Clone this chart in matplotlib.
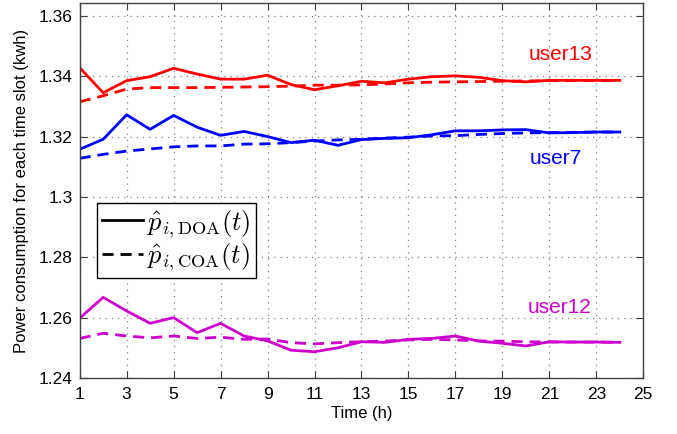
import matplotlib
matplotlib.use("Agg")
import matplotlib.pyplot as plt
from matplotlib.lines import Line2D

plt.rcParams['font.family'] = ['Liberation Sans', 'DejaVu Sans']
plt.rcParams['mathtext.fontset'] = 'cm'

hours = list(range(1, 25))

user13_doa = [1.3428, 1.3345, 1.3385, 1.3398, 1.3426, 1.3407, 1.3390, 1.3390, 1.3403, 1.3372,
              1.3355, 1.3368, 1.3383, 1.3378, 1.3390, 1.3398, 1.3401, 1.3396, 1.3385, 1.3381,
              1.3386, 1.3386, 1.3386, 1.3386]
user13_coa = [1.3315, 1.3335, 1.3357, 1.3362, 1.3362, 1.3362, 1.3363, 1.3364, 1.3365, 1.3367,
              1.3370, 1.3370, 1.3371, 1.3374, 1.3378, 1.3380, 1.3381, 1.3382, 1.3383, 1.3384,
              1.3385, 1.3385, 1.3386, 1.3386]
user7_doa = [1.3158, 1.3191, 1.3272, 1.3224, 1.3270, 1.3231, 1.3204, 1.3217, 1.3200, 1.3180,
             1.3188, 1.3171, 1.3190, 1.3194, 1.3196, 1.3206, 1.3219, 1.3219, 1.3222, 1.3223,
             1.3212, 1.3213, 1.3215, 1.3215]
user7_coa = [1.3128, 1.3141, 1.3152, 1.3159, 1.3166, 1.3169, 1.3169, 1.3175, 1.3176, 1.3180,
             1.3185, 1.3189, 1.3191, 1.3195, 1.3198, 1.3202, 1.3203, 1.3207, 1.3210, 1.3212,
             1.3213, 1.3214, 1.3215, 1.3215]
user12_doa = [1.2599, 1.2668, 1.2623, 1.2582, 1.2601, 1.2551, 1.2582, 1.2540, 1.2524, 1.2493,
              1.2488, 1.2501, 1.2521, 1.2519, 1.2529, 1.2532, 1.2540, 1.2523, 1.2516, 1.2507,
              1.2521, 1.2520, 1.2520, 1.2519]
user12_coa = [1.2532, 1.2549, 1.2540, 1.2534, 1.2540, 1.2532, 1.2536, 1.2529, 1.2530, 1.2518,
              1.2514, 1.2518, 1.2521, 1.2523, 1.2527, 1.2529, 1.2527, 1.2524, 1.2523, 1.2521,
              1.2520, 1.2520, 1.2520, 1.2519]

xticks = list(range(1, 26, 2))
yticks = [1.24, 1.26, 1.28, 1.30, 1.32, 1.34, 1.36]
yticklabels = ['1.24', '1.26', '1.28', '1.3', '1.32', '1.34', '1.36']

fig = plt.figure(figsize=(6.77, 4.34), dpi=100)
ax = fig.add_axes([0.1177, 0.1283, 0.8325, 0.8648])

red = '#FF0000'
blue = '#0000FF'
mag = '#CC00CC'
dash = (0, (4, 2.5))

ax.plot(hours, user13_doa, color=red, lw=2)
ax.plot(hours, user13_coa, color=red, lw=2, linestyle=dash)
ax.plot(hours, user7_doa, color=blue, lw=2)
ax.plot(hours, user7_coa, color=blue, lw=2, linestyle=dash)
ax.plot(hours, user12_doa, color=mag, lw=2)
ax.plot(hours, user12_coa, color=mag, lw=2, linestyle=dash)

ax.set_xlim(1, 25)
ax.set_ylim(1.24, 1.3642)
ax.set_xticks(xticks)
ax.set_yticks(yticks)
ax.set_yticklabels(yticklabels)
ax.tick_params(direction='in', top=True, right=True, labelsize=12.5, length=5, color='#404040')
ax.tick_params(axis='x', pad=6)
ax.tick_params(axis='y', pad=5)
ax.grid(True, linestyle=(0, (1, 4)), color='#808080', linewidth=0.9)
for s in ax.spines.values():
    s.set_color('#404040')
    s.set_linewidth(1.0)

ax.set_xlabel('Time (h)', fontsize=12, labelpad=3)
ax.set_ylabel('Power consumption for each time slot (kwh)', fontsize=12, labelpad=7)

ax.text(0.797, 0.862, 'user13', transform=ax.transAxes, color=red, fontsize=15, va='center', ha='left')
ax.text(0.799, 0.585, 'user7', transform=ax.transAxes, color=blue, fontsize=15, va='center', ha='left')
ax.text(0.795, 0.19, 'user12', transform=ax.transAxes, color=mag, fontsize=15, va='center', ha='left')

handles = [Line2D([], [], color='black', lw=2),
           Line2D([], [], color='black', lw=2, linestyle=dash)]
leg = ax.legend(handles, [r'$\hat{p}_{i,\mathrm{DOA}}(t)$', r'$\hat{p}_{i,\mathrm{COA}}(t)$'],
                loc='upper left', bbox_to_anchor=(0.031, 0.467), borderaxespad=0,
                fontsize=19, fancybox=False, framealpha=1, edgecolor='black',
                handlelength=1.55, handletextpad=0.15, borderpad=0.2, labelspacing=0.08)
leg.get_frame().set_linewidth(1.0)

fig.savefig('out.png', dpi=100)
